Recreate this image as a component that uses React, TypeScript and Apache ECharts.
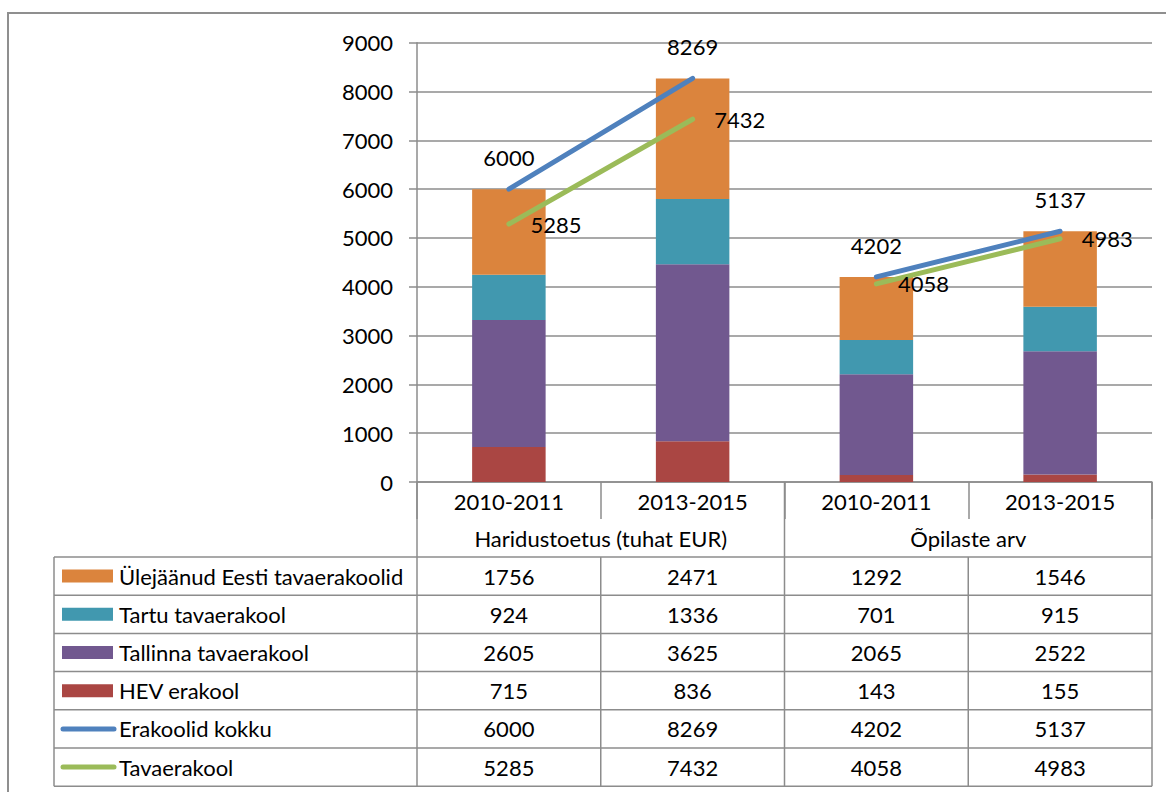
import React, { useEffect, useRef } from "react";
import * as echarts from "echarts";

const categories = ["2010-2011", "2013-2015", "2010-2011", "2013-2015"];
const groupLabels = ["Haridustoetus (tuhat EUR)", "Õpilaste arv"];
const hevErakool = [715, 836, 143, 155];
const tallinnaTavaerakool = [2605, 3625, 2065, 2522];
const tartuTavaerakool = [924, 1336, 701, 915];
const ylejaanudEesti = [1756, 2471, 1292, 1546];
const erakoolidKokku = [6000, 8269, 4202, 5137];
const tavaerakool = [5285, 7432, 4058, 4983];
const yMin = 0;
const yMax = 9000;
const yInterval = 1000;

const FONT = 'Lato, "Noto Sans", sans-serif';
const FS = 22;
const GRID_COLOR = "#8c8c8c";
const C_ORANGE = "#db843d";
const C_TEAL = "#4198af";
const C_PURPLE = "#71588f";
const C_RED = "#aa4643";
const C_BLUE = "#4f81bd";
const C_GREEN = "#9bbb59";

// layout
const W = 1166;
const H = 792;
const GL = 417;
const GR = 1152;
const GT = 42.7;
const GB = 482;
const TABLE_LEFT = 54;
const TABLE_TOP = 557;
const ROW_H = 38.2;
const CAT_TICK_BOTTOM = 519;

const rows = [
  { name: "Ülejäänud Eesti tavaerakoolid", data: ylejaanudEesti, color: C_ORANGE, kind: "bar" },
  { name: "Tartu tavaerakool", data: tartuTavaerakool, color: C_TEAL, kind: "bar" },
  { name: "Tallinna tavaerakool", data: tallinnaTavaerakool, color: C_PURPLE, kind: "bar" },
  { name: "HEV erakool", data: hevErakool, color: C_RED, kind: "bar" },
  { name: "Erakoolid kokku", data: erakoolidKokku, color: C_BLUE, kind: "line" },
  { name: "Tavaerakool", data: tavaerakool, color: C_GREEN, kind: "line" },
];

function part(arr: number[], g: number) {
  return arr.map((v, i) => (Math.floor(i / 2) === g ? v : "-"));
}

export default function App() {
  const ref = useRef<HTMLDivElement>(null);
  useEffect(() => {
    document.body.style.margin = "0";
    document.body.style.overflow = "hidden";
    if (!ref.current) return;
    const chart = echarts.init(ref.current, null, { renderer: "svg" });

    const colW = (GR - GL) / categories.length;
    const lineStyle = { stroke: GRID_COLOR, lineWidth: 1.5 };
    const graphic: any[] = [];
    // outer border
    graphic.push({
      type: "rect",
      shape: { x: 8, y: 13, width: 1400, height: 1000 },
      style: { fill: "none", stroke: "#8f8f8f", lineWidth: 2 },
      silent: true,
    });
    const vline = (x: number, y1: number, y2: number) =>
      graphic.push({ type: "line", shape: { x1: x, y1, x2: x, y2 }, style: lineStyle, silent: true, z: 10 });
    const hline = (y: number, x1: number, x2: number) =>
      graphic.push({ type: "line", shape: { x1, y1: y, x2, y2: y }, style: lineStyle, silent: true, z: 10 });

    const tableBottom = TABLE_TOP + ROW_H * rows.length;
    vline(GL, GB, tableBottom);
    vline(TABLE_LEFT, TABLE_TOP, tableBottom);
    for (let i = 1; i <= categories.length; i++) {
      const x = GL + colW * i;
      if (i % 2 === 0) vline(x, GB, tableBottom);
      else vline(x, TABLE_TOP, tableBottom);
    }
    for (let r = 0; r <= rows.length; r++) {
      hline(TABLE_TOP + ROW_H * r, TABLE_LEFT, GR);
    }
    // group labels
    groupLabels.forEach((g, gi) => {
      graphic.push({
        type: "text",
        x: GL + colW * (gi * 2 + 1),
        y: (CAT_TICK_BOTTOM + TABLE_TOP) / 2,
        style: { text: g, fontSize: FS, fontFamily: FONT, fill: "#000", align: "center", verticalAlign: "middle" },
        silent: true,
      });
    });
    // table rows
    rows.forEach((row, r) => {
      const cy = TABLE_TOP + ROW_H * (r + 0.5);
      if (row.kind === "bar") {
        graphic.push({
          type: "rect",
          shape: { x: 62, y: cy - 6.5, width: 51, height: 13 },
          style: { fill: row.color },
          silent: true,
        });
      } else {
        graphic.push({
          type: "line",
          shape: { x1: 63, y1: cy, x2: 114, y2: cy },
          style: { stroke: row.color, lineWidth: 5, lineCap: "round" },
          silent: true,
        });
      }
      graphic.push({
        type: "text",
        x: 119,
        y: cy,
        style: { text: row.name, fontSize: FS, fontFamily: FONT, fill: "#000", align: "left", verticalAlign: "middle" },
        silent: true,
      });
      row.data.forEach((v, i) => {
        graphic.push({
          type: "text",
          x: GL + colW * (i + 0.5),
          y: cy,
          style: { text: String(v), fontSize: FS, fontFamily: FONT, fill: "#000", align: "center", verticalAlign: "middle" },
          silent: true,
        });
      });
    });

    const barSeries = [
      { name: "HEV erakool", data: hevErakool, color: C_RED },
      { name: "Tallinna tavaerakool", data: tallinnaTavaerakool, color: C_PURPLE },
      { name: "Tartu tavaerakool", data: tartuTavaerakool, color: C_TEAL },
      { name: "Ülejäänud Eesti tavaerakoolid", data: ylejaanudEesti, color: C_ORANGE },
    ].map((s) => ({
      type: "bar",
      name: s.name,
      data: s.data,
      stack: "total",
      barWidth: "40%",
      itemStyle: { color: s.color },
      silent: true,
    }));

    const lineSeries: any[] = [];
    [0, 1].forEach((g) => {
      lineSeries.push({
        type: "line",
        name: "Erakoolid kokku",
        data: part(erakoolidKokku, g),
        symbol: "circle",
        symbolSize: 1,
        itemStyle: { color: C_BLUE },
        lineStyle: { color: C_BLUE, width: 5, cap: "round" },
        label: { show: true, position: "top", distance: 20, fontSize: FS, fontFamily: FONT, color: "#000" },
        silent: true,
        z: 5,
      });
      lineSeries.push({
        type: "line",
        name: "Tavaerakool",
        data: part(tavaerakool, g),
        symbol: "circle",
        symbolSize: 1,
        itemStyle: { color: C_GREEN },
        lineStyle: { color: C_GREEN, width: 5, cap: "round" },
        label: { show: true, position: "right", distance: 21, fontSize: FS, fontFamily: FONT, color: "#000" },
        silent: true,
        z: 5,
      });
    });

    chart.setOption({
      animation: false,
      backgroundColor: "#ffffff",
      grid: { left: GL, right: W - GR, top: GT, bottom: H - GB, containLabel: false },
      xAxis: {
        type: "category",
        data: categories,
        boundaryGap: true,
        axisLine: { show: true, lineStyle: { color: GRID_COLOR, width: 1.5 } },
        axisTick: { show: true, length: CAT_TICK_BOTTOM - GB, lineStyle: { color: GRID_COLOR, width: 1.5 } },
        axisLabel: { show: true, margin: 8, fontSize: FS, fontFamily: FONT, color: "#000", interval: 0 },
        splitLine: { show: false },
      },
      yAxis: {
        type: "value",
        min: yMin,
        max: yMax,
        interval: yInterval,
        axisLine: { show: true, lineStyle: { color: GRID_COLOR, width: 1.5 } },
        axisTick: { show: true, length: 8, lineStyle: { color: GRID_COLOR, width: 1.5 } },
        axisLabel: { margin: 24, fontSize: FS, fontFamily: FONT, color: "#000", formatter: (v: number) => String(v) },
        splitLine: { show: true, lineStyle: { color: GRID_COLOR, width: 1.5 } },
      },
      series: [...barSeries, ...lineSeries],
      graphic,
    });
    return () => chart.dispose();
  }, []);
  return <div ref={ref} style={{ width: W, height: H }} />;
}
